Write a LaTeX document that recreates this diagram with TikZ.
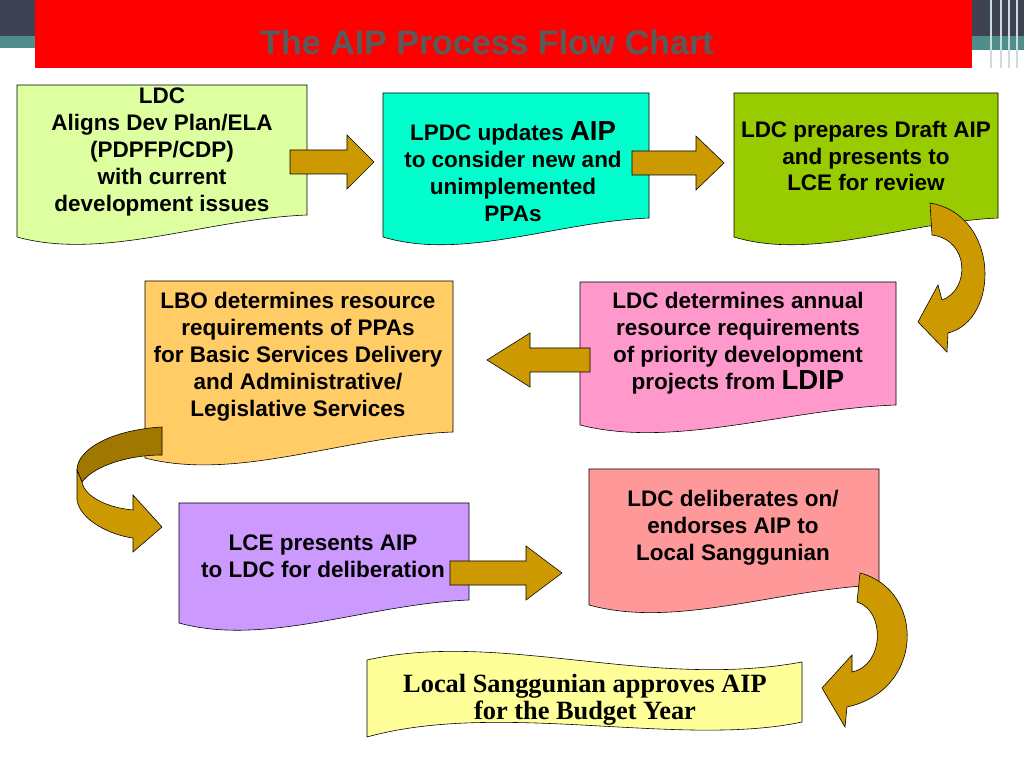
\documentclass[tikz,border=0pt]{standalone}
\usepackage{fontspec}
\setmainfont{Liberation Sans}
\newfontfamily\serifbox{Liberation Serif}
\definecolor{titlered}{HTML}{FF0000}
\definecolor{titlegray}{HTML}{5A5A5A}
\definecolor{stripdark}{HTML}{3E4252}
\definecolor{stripteal}{HTML}{4F8E8C}
\definecolor{gold}{HTML}{CC9900}
\definecolor{golddark}{HTML}{A07800}
\definecolor{boxlime}{HTML}{DDFF9F}
\definecolor{boxcyan}{HTML}{00FFCC}
\definecolor{boxgreen}{HTML}{99CC00}
\definecolor{boxpink}{HTML}{FF99CC}
\definecolor{boxorange}{HTML}{FFCC66}
\definecolor{boxlilac}{HTML}{CC99FF}
\definecolor{boxsalmon}{HTML}{FF9999}
\definecolor{boxyellow}{HTML}{FFFF99}
\tikzset{
  doc/.style={draw=black,line width=0.5pt},
  txt/.style={align=center,font=\bfseries\fontsize{19.2}{23}\selectfont},
  gold/.style={draw=black,line width=0.5pt,fill=gold,line join=miter}
}
% document shape with a wavy bottom edge
\newcommand\docbox[7]{%
  \pgfmathsetmacro\ca{#1+0.65*(#3-#1)}%
  \pgfmathsetmacro\cb{#1+0.3*(#3-#1)}%
  \pgfmathsetmacro\cy{#4+24}%
  \pgfmathsetmacro\cz{#5+4}%
  \draw[doc,fill=#6] (#1,#2) -- (#3,#2) -- (#3,#5)
    .. controls (\ca,\cz) and (\cb,\cy) .. (#1,#4) -- cycle;}
% block arrow: from x, to x, centre y, head length
\newcommand\blockarrow[4]{%
  \pgfmathsetmacro\xh{#2-#4*sign(#2-#1)}%
  \draw[gold] (#1,#3-12) -- (\xh,#3-12) -- (\xh,#3-27) -- (#2,#3)
    -- (\xh,#3+27) -- (\xh,#3+12) -- (#1,#3+12) -- cycle;}
\begin{document}
\begin{tikzpicture}[x=0.03cm,y=-0.03cm]
\useasboundingbox (0,0) rectangle (1024,768);
% header
\fill[stripdark] (0,0) rectangle (35,36);
\fill[stripteal] (0,36) rectangle (35,48);
\fill[stripdark] (972,0) rectangle (1024,36);
\fill[stripteal] (972,36) rectangle (1024,50);
\foreach \xs in {990,1000,1008,1016}
  \fill[white!70!stripteal] (\xs,0) rectangle (\xs+2,68);
\fill[titlered] (35,0) rectangle (972,68);
\node[font=\bfseries\fontsize{29}{32}\selectfont,text=titlegray] (title) at (487,42) {The AIP Process Flow Chart};

% boxes
\docbox{17}{85}{307}{237}{215}{boxlime}{}
\node[txt] (align) at (162,152) {LDC\\Aligns Dev Plan/ELA\\(PDPFP/CDP)\\with current\\development issues};
\docbox{383}{93}{649}{237}{218}{boxcyan}{}
\node[txt] (update) at (513,172) {LPDC updates {\fontsize{23.5}{23}\selectfont AIP}\\to consider new and\\unimplemented\\PPAs};
\docbox{734}{93}{998}{237}{218}{boxgreen}{}
\node[txt] (draft) at (866,156) {LDC prepares Draft AIP\\and presents to\\LCE for review};
\docbox{580}{282}{896}{425}{405}{boxpink}{}
\node[txt] (annual) at (738,343) {LDC determines annual\\resource requirements\\of priority development\\projects from {\fontsize{23.5}{23}\selectfont LDIP}};
\docbox{145}{281}{453}{458}{432}{boxorange}{}
\node[txt] (lbo) at (298,357) {LBO determines resource\\requirements of PPAs\\for Basic Services Delivery\\and Administrative/\\Legislative Services};
\docbox{179}{503}{469}{623}{600}{boxlilac}{}
\node[txt] (present) at (323,556) {LCE presents AIP\\to LDC for deliberation};
\docbox{589}{469}{879}{605}{585}{boxsalmon}{}
\node[txt] (endorse) at (733,528) {LDC deliberates on/\\endorses AIP to\\Local Sanggunian};
\draw[doc,fill=boxyellow] (367,660) .. controls (500,630) and (650,690) .. (802,662)
  -- (802,722) .. controls (680,748) and (500,700) .. (367,737) -- cycle;
\node[font=\serifbox\bfseries\fontsize{22.5}{23}\selectfont,align=center] (approve) at (585,700) {Local Sanggunian approves AIP\\for the Budget Year};

% straight arrows
\blockarrow{290}{374}{162}{27}
\blockarrow{632}{724}{163}{28}
\blockarrow{590}{487}{360}{43}
\blockarrow{450}{562}{573}{36}

% curved arrows
\draw[gold] (930,203) .. controls (1000,215) and (1000,320) .. (948,333) -- (947,352)
  -- (918,322) -- (938,285) -- (942,300) .. controls (970,290) and (970,240) .. (932,235) -- cycle;
\draw[gold,fill=golddark] (162,427) .. controls (110,430) and (77,450) .. (77,470)
  -- (82,482) .. controls (95,465) and (130,455) .. (162,455) -- cycle;
\draw[gold] (77,470) -- (77,500) .. controls (80,520) and (110,535) .. (133,538) -- (133,552)
  -- (162,527) -- (133,495) -- (133,510) .. controls (110,508) and (85,498) .. (82,482) -- cycle;
\draw[gold] (860,573) .. controls (925,590) and (925,690) .. (847,707) -- (845,727)
  -- (822,688) -- (852,655) -- (852,672) .. controls (885,665) and (885,610) .. (857,602) -- cycle;
\end{tikzpicture}
\end{document}
